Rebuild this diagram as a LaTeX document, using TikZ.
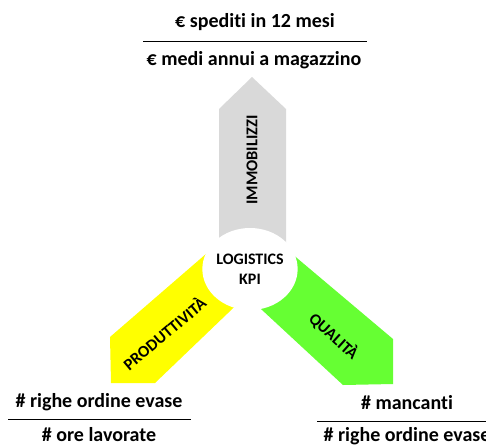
\documentclass[tikz,border=0pt]{standalone}
\usepackage{fontspec}
\setmainfont{Carlito}[Ligatures=NoCommon]
\usepackage{tikz}
\usetikzlibrary{calc}
\usetikzlibrary{shapes.geometric}
\definecolor{kpigray}{RGB}{217,217,217}
\definecolor{kpiyellow}{RGB}{255,255,0}
\definecolor{kpigreen}{RGB}{102,255,51}
\tikzstyle{formula} = [font=\bfseries\fontsize{20}{22}\selectfont,
	inner sep=1pt]
\tikzstyle{armtext} = [font=\bfseries\fontsize{16.5}{18}\selectfont,
	inner sep=0pt]
\tikzstyle{bar} = [line width=1pt]

\begin{document}
\begin{tikzpicture}[x=1pt, y=-1pt]
			\useasboundingbox (0,0) rectangle (486,447);
			
			% the three arms
			\fill[kpiyellow] (214,247) -- (110,337) -- (111,383) -- (155,383) -- (252,290) -- cycle;
			\fill[kpigreen] (291,253) -- (393,339) -- (393,384) -- (343,385) -- (248,297) -- cycle;
			\fill[kpigray] (219,260) -- (219,109) -- (252,77) -- (286,109) -- (286,260) -- cycle;
			\node (kpi)[ellipse, fill=white, minimum width=88, minimum height=82,
				inner sep=0pt, align=center, font=\bfseries\fontsize{16}{20}\selectfont]
				at (250,269) {LOGISTICS\\KPI};
			
			\node (immo)[armtext, rotate=90] at (252,160) {IMMOBILIZZI};
			\node (prod)[armtext, rotate=40] at (164,333) {PRODUTTIVITÀ};
			\node (qual)[armtext, rotate=-42] at (334,336) {QUALITÀ};
			
			% fractions
			\node (spediti)[formula] at (255,22) {€ spediti in 12 mesi};
			\node (medi)[formula] at (254,60) {€ medi annui a magazzino};
			\coordinate (barA) at (143,41);
			\coordinate (barB) at (367,41);
			\draw [bar] (barA) -- (barB);
			
			\node (righe)[formula] at (99,402) {\# righe ordine evase};
			\node (ore)[formula] at (99,435) {\# ore lavorate};
			\coordinate (barC) at (8,419);
			\coordinate (barD) at (191,419);
			\draw [bar] (barC) -- (barD);
			
			\node (mancanti)[formula] at (407,403) {\# mancanti};
			\node (evase)[formula] at (407,436) {\# righe ordine evase};
			\coordinate (barE) at (317,421);
			\coordinate (barF) at (486,421);
			\draw [bar] (barE) -- (barF);
		\end{tikzpicture}
\end{document}
